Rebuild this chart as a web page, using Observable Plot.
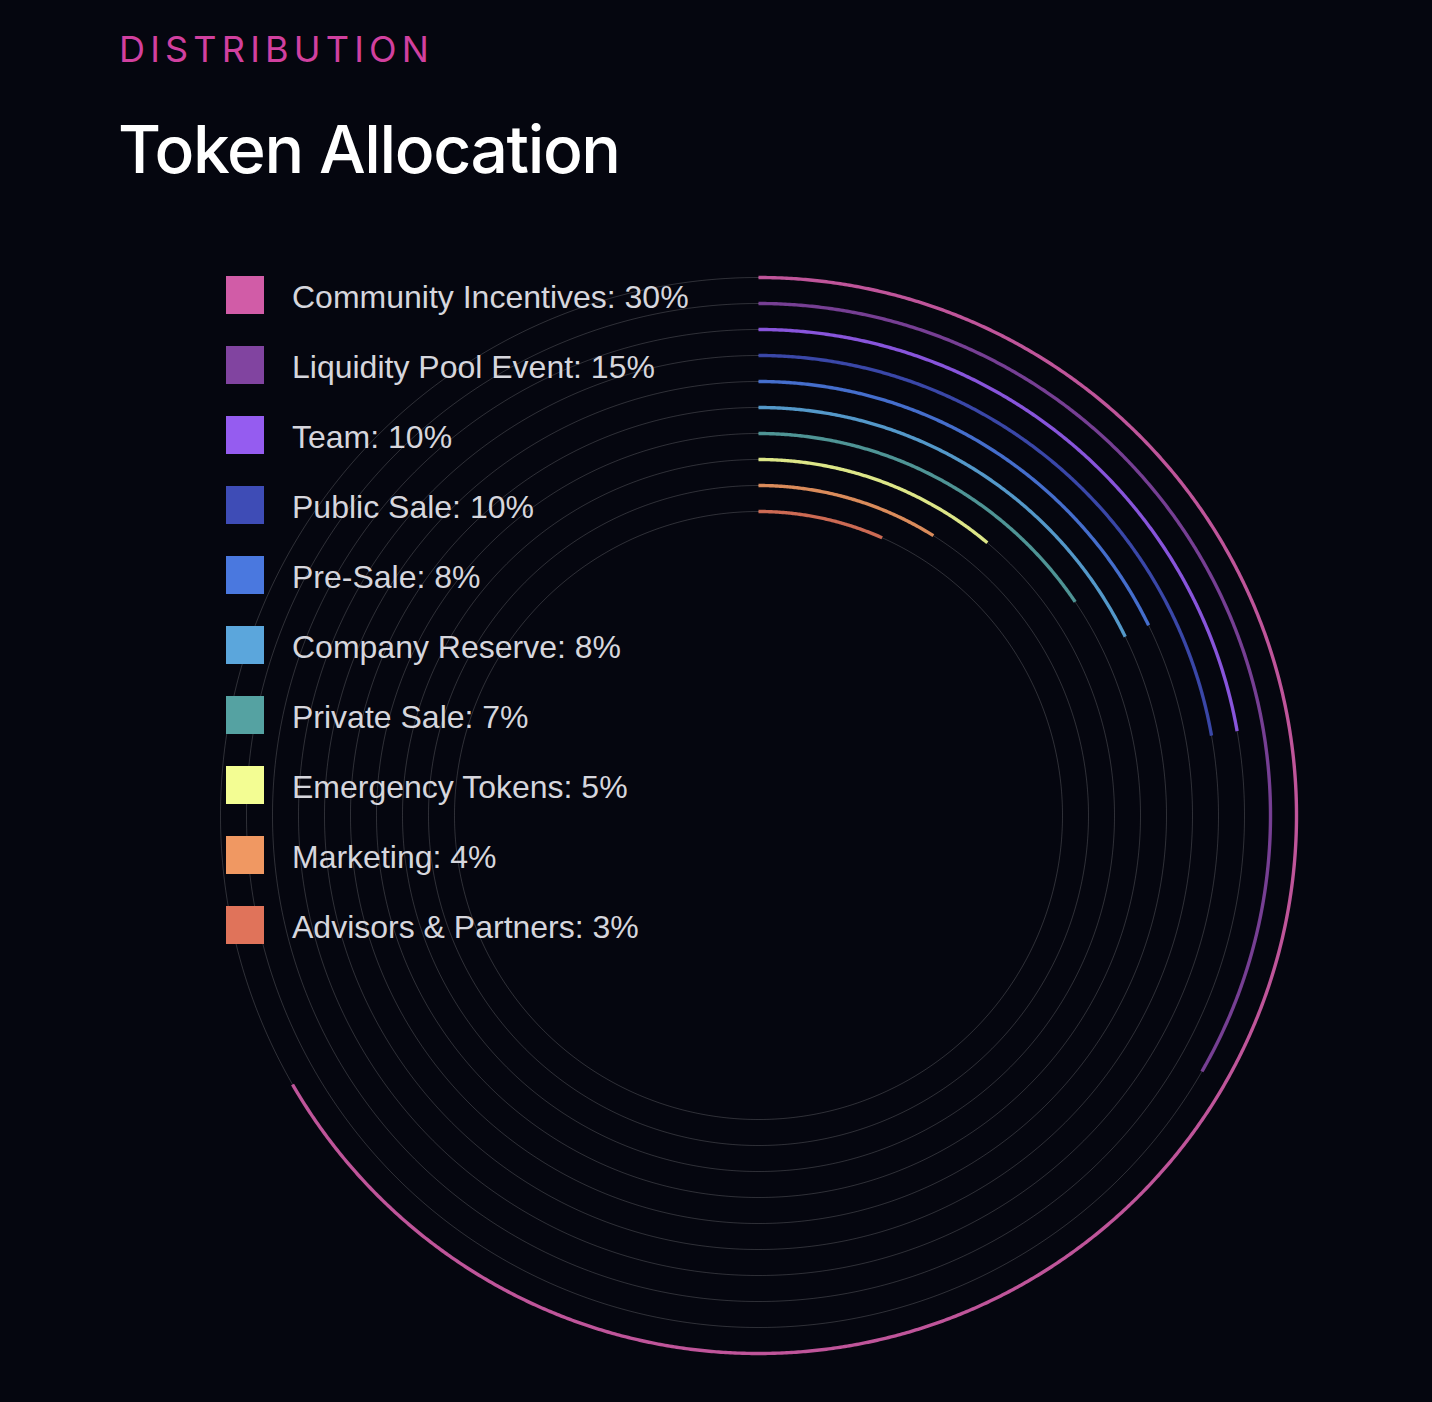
<!DOCTYPE html>
<html>
<head>
<meta charset="utf-8">
<script src="https://cdn.jsdelivr.net/npm/d3@7"></script>
<script src="https://cdn.jsdelivr.net/npm/@observablehq/plot@0.6"></script>
<style>
  html, body { margin: 0; padding: 0; background: #05060f; }
  #page { position: relative; width: 1432px; height: 1402px; background: #05060f; overflow: hidden; }
  #eyebrow { position: absolute; left: 119px; top: 31px; font-family: "Inter", sans-serif; font-weight: 400; font-size: 36px; letter-spacing: 5.2px; color: #d1409f; line-height: 1; }
  #title { position: absolute; left: 118px; top: 116px; font-family: "Inter", sans-serif; font-weight: 500; font-size: 66px; letter-spacing: -1.4px; color: #ffffff; line-height: 1; }
  #chart { position: absolute; left: 208px; top: 265px; }
  #legend { position: absolute; left: 226px; top: 276px; font-family: "Liberation Sans", Arial, sans-serif; }
  .row { position: absolute; left: 0; height: 38px; display: flex; align-items: center; white-space: nowrap; }
  .sw { width: 38px; height: 38px; flex: none; }
  .lab { margin-left: 28px; font-size: 32px; color: #d6d6dd; position: relative; top: 2px; }
</style>
</head>
<body>
<div id="page">
  <div id="eyebrow">DISTRIBUTION</div>
  <div id="title">Token Allocation</div>
  <div id="chart"></div>
  <div id="legend"></div>
</div>
<script>
const categories = ["Community Incentives", "Liquidity Pool Event", "Team", "Public Sale", "Pre-Sale", "Company Reserve", "Private Sale", "Emergency Tokens", "Marketing", "Advisors & Partners"];
const values = [30, 15, 10, 10, 8, 8, 7, 5, 4, 3];
const colors = ["#d15ca7", "#8144a0", "#955cf0", "#3e4cb6", "#4a78df", "#5ba6dc", "#55a2a2", "#f3fd93", "#f09862", "#e0735a"];

// polar helpers (data space; Plot's x/y scales map it to pixels)
const radius = d3.scalePoint().domain(categories).range([538, 304]);
const angle = d3.scaleLinear().domain([0, d3.max(values)]).range([0, 240]); // degrees, clockwise from top

function arcPoints(cat, deg0, deg1, step) {
  const r = radius(cat);
  const pts = [];
  for (let a = deg0; a < deg1; a += step) pts.push({cat, a});
  pts.push({cat, a: deg1});
  return pts.map(p => ({cat: p.cat, x: r * Math.sin(p.a * Math.PI / 180), y: r * Math.cos(p.a * Math.PI / 180)}));
}

const grid = categories.flatMap(c => arcPoints(c, 0, 360, 0.5));
const arcs = categories.flatMap((c, i) => arcPoints(c, 0, angle(values[i]), 0.25));

const chart = Plot.plot({
  width: 1100,
  height: 1100,
  margin: 0,
  style: {background: "transparent"},
  x: {domain: [-550, 550], axis: null},
  y: {domain: [-550, 550], axis: null},
  color: {domain: categories, range: colors},
  marks: [
    Plot.line(grid, {x: "x", y: "y", z: "cat", stroke: "#ffffff", strokeOpacity: 0.17, strokeWidth: 1}),
    Plot.line(arcs, {x: "x", y: "y", z: "cat", stroke: "cat", strokeWidth: 3.4, strokeOpacity: 0.9, strokeLinecap: "butt"})
  ]
});
document.getElementById("chart").appendChild(chart);

const legend = document.getElementById("legend");
categories.forEach((c, i) => {
  const row = document.createElement("div");
  row.className = "row";
  row.style.top = (i * 70) + "px";
  const sw = document.createElement("div");
  sw.className = "sw";
  sw.style.background = colors[i];
  const lab = document.createElement("div");
  lab.className = "lab";
  lab.textContent = `${c}: ${values[i]}%`;
  row.appendChild(sw);
  row.appendChild(lab);
  legend.appendChild(row);
});
</script>
</body>
</html>
